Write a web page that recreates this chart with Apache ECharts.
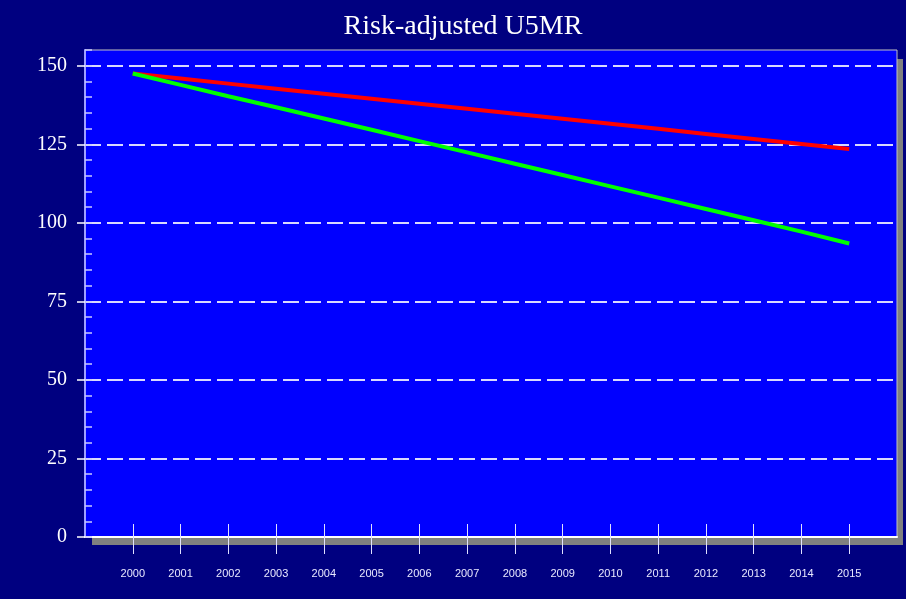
<!DOCTYPE html>
<html>
<head>
<meta charset="utf-8">
<script src="https://cdn.jsdelivr.net/npm/echarts@6/dist/echarts.min.js"></script>
<style>
html,body{margin:0;padding:0;background:#000080;}
#chart{width:906px;height:599px;}
</style>
</head>
<body>
<div id="chart"></div>
<script>
const years = [2000,2001,2002,2003,2004,2005,2006,2007,2008,2009,2010,2011,2012,2013,2014,2015];
const redSeries = [147.5,145.9,144.3,142.7,141.1,139.5,137.9,136.3,134.7,133.1,131.5,129.9,128.3,126.7,125.1,123.5];
const greenSeries = [147.5,143.9,140.3,136.8,133.2,129.6,126.0,122.4,118.8,115.2,111.6,108.0,104.4,100.8,97.2,93.4];
const yTicks = [0,25,50,75,100,125,150];
const titleText = 'Risk-adjusted U5MR';

const chart = echarts.init(document.getElementById('chart'), null, {renderer:'canvas'});
const xMin = 1999, xMax = 2016;
const pair = (vals) => years.map((y,i) => [y, vals[i]]);

chart.setOption({
  animation: false,
  backgroundColor: '#000080',
  title: {
    text: titleText, left: 458, textAlign: 'center', top: 8,
    textStyle: {color:'#ffffff', fontFamily:'Liberation Serif', fontSize:28, fontWeight:'normal'}
  },
  graphic: [
    {type:'rect', shape:{x:897, y:59, width:6, height:486}, style:{fill:'#808080'}, z:-1},
    {type:'rect', shape:{x:92, y:538, width:805, height:7}, style:{fill:'#808080'}, z:-1}
  ],
  grid: {
    left: 85, right: 9, top: 50, bottom: 62,
    show: true, backgroundColor: '#0000ff', borderColor: '#c0c0c0', borderWidth: 1
  },
  xAxis: [
    {
      type:'value', min:xMin, max:xMax, position:'bottom',
      axisLine:{show:true, onZero:false, lineStyle:{color:'#ffffff', width:2}},
      axisTick:{show:true, inside:true, length:13, customValues:years, lineStyle:{color:'#e0e0ff', width:1}},
      axisLabel:{show:true, customValues:years, margin:31, color:'#e8e8ff', fontFamily:'Liberation Sans', fontSize:11, formatter:(v)=>String(Math.round(v))},
      splitLine:{show:false}
    },
    {
      type:'value', min:xMin, max:xMax, position:'bottom',
      axisLine:{show:false},
      axisTick:{show:true, inside:false, length:17, customValues:years, lineStyle:{color:'#e0e0ff', width:1}},
      axisLabel:{show:false},
      splitLine:{show:false}
    }
  ],
  yAxis: [
    {
      type:'value', min:0, max:155, interval:25, position:'left',
      axisLine:{show:true, lineStyle:{color:'#a0a0ff', width:2}},
      axisTick:{show:true, inside:false, length:8, customValues:yTicks, lineStyle:{color:'#ffffff', width:1.5}},
      axisLabel:{show:true, customValues:yTicks, margin:18, color:'#ffffff', fontFamily:'Liberation Serif', fontSize:20},
      splitLine:{show:true, lineStyle:{color:'#d8d8ff', width:2, type:[16,6]}}
    },
    {
      type:'value', min:0, max:155, interval:5, position:'left',
      axisLine:{show:false},
      axisTick:{show:true, inside:true, length:7, lineStyle:{color:'#c8c8ff', width:1.5}},
      axisLabel:{show:false},
      splitLine:{show:false}
    }
  ],
  series: [
    {type:'line', xAxisIndex:0, yAxisIndex:0, data:pair(redSeries), symbol:'none', lineStyle:{color:'#ff0000', width:4}, z:3},
    {type:'line', xAxisIndex:0, yAxisIndex:0, data:pair(greenSeries), symbol:'none', lineStyle:{color:'#00ff00', width:4}, z:4}
  ]
});
</script>
</body>
</html>
